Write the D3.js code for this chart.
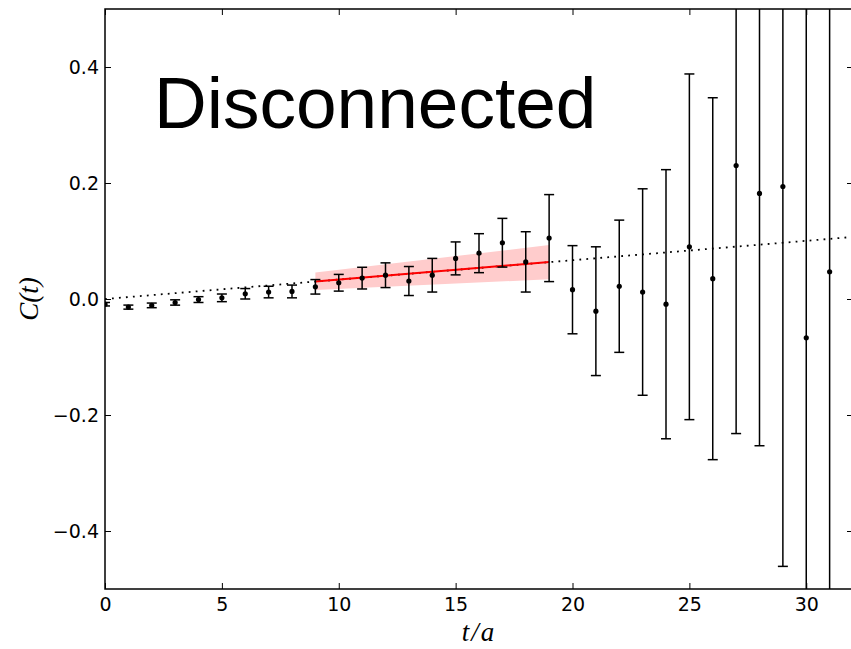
<!DOCTYPE html>
<html>
<head>
<meta charset="utf-8">
<script src="https://cdn.jsdelivr.net/npm/d3@7"></script>
<style>
  body { margin: 0; background: #fff; overflow: hidden; }
</style>
</head>
<body>
<div id="chart"></div>
<script>
// data
var tVals = [0, 1, 2, 3, 4, 5, 6, 7, 8, 9, 10, 11, 12, 13, 14, 15,
             16, 17, 18, 19, 20, 21, 22, 23, 24, 25, 26, 27, 28, 29, 30, 31]
var cVals = [-0.009, -0.014, -0.011, -0.006, -0.001, 0.002, 0.009, 0.012, 0.013, 0.021,
             0.028, 0.036, 0.041, 0.031, 0.041, 0.070, 0.079, 0.097, 0.064, 0.105,
             0.016, -0.021, 0.022, 0.012, -0.009, 0.090, 0.035, 0.230, 0.182, 0.194,
             -0.067, 0.047]
var errVals = [0.003, 0.0035, 0.004, 0.0046, 0.005, 0.0066, 0.009, 0.010, 0.011, 0.0125,
               0.0144, 0.0187, 0.0213, 0.025, 0.029, 0.0284, 0.0336, 0.042, 0.052, 0.075,
               0.076, 0.111, 0.114, 0.178, 0.232, 0.298, 0.312, 0.462, 0.435, 0.655,
               0.75, 0.8]

// fit window (red line + band) and the extrapolated dotted line
var fitT = [9, 19]
var fitC = [0.0302, 0.0637]
var bandLo = [0.0155, 0.034]
var bandHi = [0.0455, 0.093]
var extT = [0, 32]
var extC = [0, 0.107]

var xTicks = [0, 5, 10, 15, 20, 25, 30]
var yTicks = [-0.4, -0.2, 0.0, 0.2, 0.4]

var margin = {top: 9, right: -2, bottom: 60, left: 105},
    W = 851, H = 649,
    width = W - margin.left - margin.right,
    height = H - margin.top - margin.bottom;

var svg = d3.select("#chart").append("svg")
  .attr("width", W)
  .attr("height", H)

var g = svg.append("g")
  .attr("transform", "translate(" + margin.left + "," + margin.top + ")")

var x = d3.scaleLinear().domain([0, 32]).range([0, width])
var y = d3.scaleLinear().domain([-0.5, 0.5]).range([height, 0])

// clip to axes box
g.append("clipPath").attr("id", "clip")
  .append("rect").attr("width", width).attr("height", height)

var plot = g.append("g").attr("clip-path", "url(#clip)")

var rows = tVals.map(function(t, i) { return {t: t, c: cVals[i], e: errVals[i]} })

// fit band
var band = fitT.map(function(t, i) { return {t: t, lo: bandLo[i], hi: bandHi[i]} })
plot.append("path")
  .datum(band)
  .attr("d", d3.area().x(function(d) { return x(d.t) })
    .y0(function(d) { return y(d.lo) }).y1(function(d) { return y(d.hi) }))
  .style("fill", "#ffcccc")

// dotted extrapolation
plot.append("path")
  .datum(extT.map(function(t, i) { return [x(t), y(extC[i])] }))
  .attr("d", d3.line())
  .style("fill", "none")
  .style("stroke", "#000")
  .style("stroke-width", 1.8)
  .style("stroke-dasharray", "1.8,5.2")

// red fit line
plot.append("path")
  .datum(fitT.map(function(t, i) { return [x(t), y(fitC[i])] }))
  .attr("d", d3.line())
  .style("fill", "none")
  .style("stroke", "#ff0000")
  .style("stroke-width", 2)

// error bars
var eb = plot.selectAll(".eb").data(rows).enter().append("g").attr("class", "eb")
eb.append("line")
  .attr("x1", function(d) { return x(d.t) }).attr("x2", function(d) { return x(d.t) })
  .attr("y1", function(d) { return y(d.c - d.e) }).attr("y2", function(d) { return y(d.c + d.e) })
  .style("stroke", "#000").style("stroke-width", 1.5)
eb.append("line")
  .attr("x1", function(d) { return x(d.t) - 5 }).attr("x2", function(d) { return x(d.t) + 5 })
  .attr("y1", function(d) { return y(d.c + d.e) }).attr("y2", function(d) { return y(d.c + d.e) })
  .style("stroke", "#000").style("stroke-width", 1.5)
eb.append("line")
  .attr("x1", function(d) { return x(d.t) - 5 }).attr("x2", function(d) { return x(d.t) + 5 })
  .attr("y1", function(d) { return y(d.c - d.e) }).attr("y2", function(d) { return y(d.c - d.e) })
  .style("stroke", "#000").style("stroke-width", 1.5)
eb.append("circle")
  .attr("cx", function(d) { return x(d.t) })
  .attr("cy", function(d) { return y(d.c) })
  .attr("r", 2.6)
  .style("fill", "#000")

// axes, ticks pointing inward on all four sides
var fmt = d3.format(".1f")
g.append("g").attr("transform", "translate(0," + height + ")")
  .call(d3.axisBottom(x).tickValues(xTicks).tickSizeInner(-6).tickSizeOuter(0).tickPadding(9))
g.append("g")
  .call(d3.axisTop(x).tickValues(xTicks).tickSizeInner(-6).tickSizeOuter(0).tickFormat(""))
g.append("g")
  .call(d3.axisLeft(y).tickValues(yTicks).tickSizeInner(-6).tickSizeOuter(0).tickPadding(6).tickFormat(fmt))
g.append("g").attr("transform", "translate(" + width + ",0)")
  .call(d3.axisRight(y).tickValues(yTicks).tickSizeInner(-6).tickSizeOuter(0).tickFormat(""))
g.selectAll(".domain").remove()
g.selectAll(".tick line").style("stroke", "#000").style("stroke-width", 1)
g.selectAll(".tick text")
  .style("font-family", "'DejaVu Sans', sans-serif")
  .style("font-size", "19px")
  .style("fill", "#000")

// frame
g.append("rect").attr("width", width).attr("height", height)
  .style("fill", "none").style("stroke", "#000").style("stroke-width", 1.5)

// labels
svg.append("text")
  .attr("x", margin.left + x(16)).attr("y", 641)
  .attr("text-anchor", "middle")
  .style("font-family", "'Liberation Serif', serif").style("font-style", "italic")
  .style("font-size", "27px").style("letter-spacing", "2px")
  .text("t/a")

svg.append("text")
  .attr("transform", "translate(38," + (margin.top + y(0)) + ") rotate(-90)")
  .attr("text-anchor", "middle")
  .style("font-family", "'Liberation Serif', serif").style("font-style", "italic")
  .style("font-size", "27px")
  .text("C(t)")

g.append("text")
  .attr("x", x(2.1)).attr("y", y(0.295))
  .style("font-family", "'Liberation Sans', Helvetica, Arial, sans-serif")
  .style("font-size", "73px")
  .text("Disconnected")
</script>
</body>
</html>
